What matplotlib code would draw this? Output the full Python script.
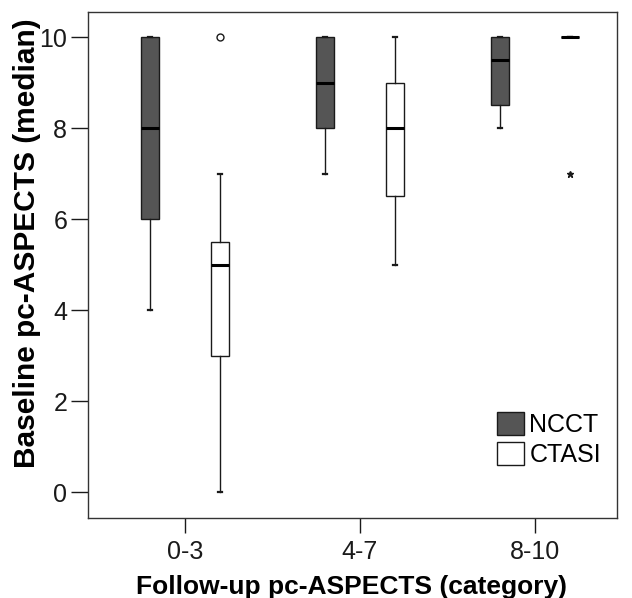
import numpy as np
import matplotlib
matplotlib.use('Agg')
import matplotlib.pyplot as plt
from matplotlib.patches import Patch

plt.rcParams['font.family'] = ['Liberation Sans', 'DejaVu Sans']

groups = ['0-3', '4-7', '8-10']

ncct_whislo = [4, 7, 8]
ncct_q1 = [6, 8, 8.5]
ncct_med = [8, 9, 9.5]
ncct_q3 = [10, 10, 10]
ncct_whishi = [10, 10, 10]
ncct_outliers = [[], [], []]
ncct_extremes = [[], [], []]

ctasi_whislo = [0, 5, 10]
ctasi_q1 = [3, 6.5, 10]
ctasi_med = [5, 8, 10]
ctasi_q3 = [5.5, 9, 10]
ctasi_whishi = [7, 10, 10]
ctasi_outliers = [[10], [], []]
ctasi_extremes = [[], [], [7]]


def make_stats(lo, q1, med, q3, hi, fl):
    return [dict(whislo=a, q1=b, med=c, q3=d, whishi=e, fliers=f)
            for a, b, c, d, e, f in zip(lo, q1, med, q3, hi, fl)]


fig = plt.figure(figsize=(6.32, 5.98), dpi=100)
ax = fig.add_axes([88 / 632, 80 / 598, 529 / 632, 506 / 598])

x = np.arange(len(groups))
offset = 0.2
bw = 0.103

series = [
    ('NCCT', '#555555', -offset,
     make_stats(ncct_whislo, ncct_q1, ncct_med, ncct_q3, ncct_whishi, ncct_outliers), ncct_extremes),
    ('CTASI', 'white', offset,
     make_stats(ctasi_whislo, ctasi_q1, ctasi_med, ctasi_q3, ctasi_whishi, ctasi_outliers), ctasi_extremes),
]

for name, color, off, stats, extremes in series:
    ax.bxp(stats, positions=x + off, widths=bw, capwidths=0.025,
           patch_artist=True, showfliers=True, manage_ticks=False,
           boxprops=dict(facecolor=color, edgecolor='#1a1a1a', linewidth=1.0),
           medianprops=dict(color='black', linewidth=2.2),
           whiskerprops=dict(color='#1a1a1a', linewidth=1.0),
           capprops=dict(color='#1a1a1a', linewidth=1.6),
           flierprops=dict(marker='o', markersize=5, markerfacecolor='white',
                           markeredgecolor='#1a1a1a', markeredgewidth=1.0))
    for i, ext in enumerate(extremes):
        if ext:
            ax.plot([x[i] + off] * len(ext), ext, linestyle='none', marker='*',
                    markersize=5, color='#1a1a1a')

ax.set_xlim(-0.554, 2.469)
ax.set_ylim(-0.57, 10.55)
ax.set_xticks(x)
ax.set_xticklabels(groups)
ax.set_yticks([0, 2, 4, 6, 8, 10])
ax.tick_params(axis='both', labelsize=18, colors='#1a1a1a', width=1.0)
ax.tick_params(axis='y', length=12, pad=3)
ax.tick_params(axis='x', length=11, pad=5)
for s in ax.spines.values():
    s.set_color('#333333')
    s.set_linewidth(1.0)

fig.text(352 / 632, 1 - 587 / 598, 'Follow-up pc-ASPECTS (category)', ha='center', va='center',
         fontsize=19, fontweight='bold')
fig.text(27 / 632, 1 - 243 / 598, 'Baseline pc-ASPECTS (median)', ha='center', va='center',
         rotation=90, fontsize=21.5, fontweight='bold')

handles = [Patch(facecolor='#555555', edgecolor='#1a1a1a', linewidth=1.0),
           Patch(facecolor='white', edgecolor='#1a1a1a', linewidth=1.0)]
ax.legend(handles, ['NCCT', 'CTASI'], loc='lower left', bbox_to_anchor=(0.773, 0.1),
          frameon=False, fontsize=18, handlelength=1.1, handleheight=1.05,
          handletextpad=0.2, labelspacing=0.2, borderpad=0, borderaxespad=0)

fig.savefig('out.png', dpi=100)
